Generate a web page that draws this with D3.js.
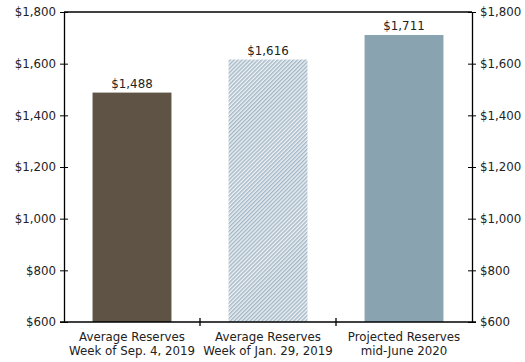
<!DOCTYPE html>
<html>
<head>
<meta charset="utf-8">
<script src="https://cdn.jsdelivr.net/npm/d3@7"></script>
<style>
  body { margin: 0; background: #fff; }
  svg { display: block; font-family: "DejaVu Sans", Verdana, sans-serif; }
</style>
</head>
<body>
<svg id="chart" width="525" height="362"></svg>
<script>
// data
const categories = [
  ["Average Reserves", "Week of Sep. 4, 2019"],
  ["Average Reserves", "Week of Jan. 29, 2019"],
  ["Projected Reserves", "mid-June 2020"]
];
const values = [1488, 1616, 1711];
const yTicks = [600, 800, 1000, 1200, 1400, 1600, 1800];

const W = 525, H = 362;
const margin = { top: 12, right: 53, bottom: 40, left: 64 };
const svg = d3.select("#chart");
const fs = 11.8;

const defs = svg.append("defs");
const pat = defs.append("pattern")
  .attr("id", "hatch")
  .attr("patternUnits", "userSpaceOnUse")
  .attr("width", 2.8).attr("height", 2.8)
  .attr("patternTransform", "rotate(45)");
pat.append("rect").attr("width", 2.8).attr("height", 2.8).attr("fill", "#eef2f5");
pat.append("rect").attr("width", 1.4).attr("height", 2.8).attr("fill", "#a3b7c6");

const x = d3.scaleBand()
  .domain(d3.range(categories.length))
  .range([margin.left, W - margin.right])
  .paddingInner(0.42).paddingOuter(0.21);
const y = d3.scaleLinear().domain([600, 1800]).range([H - margin.bottom, margin.top]);

const fills = ["#5e5345", "url(#hatch)", "#8aa3b1"];
const fmt = d => "$" + d3.format(",")(d);

svg.append("g").selectAll("rect")
  .data(values)
  .join("rect")
  .attr("x", (d, i) => x(i))
  .attr("y", d => y(d))
  .attr("width", x.bandwidth())
  .attr("height", d => y(600) - y(d))
  .attr("fill", (d, i) => fills[i]);

svg.append("g").selectAll("text")
  .data(values)
  .join("text")
  .attr("x", (d, i) => x(i) + x.bandwidth() / 2)
  .attr("y", d => y(d) - 5)
  .attr("text-anchor", "middle")
  .attr("font-size", fs)
  .attr("fill", "#222")
  .text(fmt);

// axes
const yl = d3.axisLeft(y).tickValues(yTicks).tickFormat(fmt).tickSizeInner(4).tickSizeOuter(0).tickPadding(4);
const yr = d3.axisRight(y).tickValues(yTicks).tickFormat(fmt).tickSizeInner(4).tickSizeOuter(0).tickPadding(4);

function styleAxis(g) {
  g.select(".domain").attr("stroke", "#000").attr("stroke-width", 1.3);
  g.selectAll(".tick line").attr("stroke", "#000").attr("x1", -4).attr("x2", 4);
  g.selectAll(".tick text").attr("font-size", fs).attr("fill", "#222").attr("font-family", "DejaVu Sans, Verdana, sans-serif");
}

svg.append("g").attr("transform", `translate(${margin.left},0)`).call(yl).call(styleAxis);
svg.append("g").attr("transform", `translate(${W - margin.right},0)`).call(yr).call(styleAxis);

// top border
svg.append("line")
  .attr("x1", margin.left).attr("x2", W - margin.right)
  .attr("y1", y(1800)).attr("y2", y(1800))
  .attr("stroke", "#000").attr("stroke-width", 1.3);

// bottom axis with separators between categories
const x0 = margin.left, x1 = W - margin.right, yb = y(600);
const step = (x1 - x0) / categories.length;
svg.append("line")
  .attr("x1", x0 - 4).attr("x2", x1 + 4)
  .attr("y1", yb).attr("y2", yb)
  .attr("stroke", "#000").attr("stroke-width", 1.3);
svg.append("g").selectAll("line")
  .data(d3.range(1, categories.length))
  .join("line")
  .attr("x1", i => x0 + i * step).attr("x2", i => x0 + i * step)
  .attr("y1", yb - 4).attr("y2", yb + 4)
  .attr("stroke", "#000").attr("stroke-width", 1.3);

const lab = svg.append("g").selectAll("text")
  .data(categories)
  .join("text")
  .attr("x", (d, i) => x(i) + x.bandwidth() / 2)
  .attr("y", yb + 19)
  .attr("text-anchor", "middle")
  .attr("font-size", fs)
  .attr("fill", "#222");
lab.selectAll("tspan")
  .data(d => d)
  .join("tspan")
  .attr("x", function () { return this.parentNode.getAttribute("x"); })
  .attr("dy", (d, i) => i === 0 ? 0 : 14)
  .text(d => d);
</script>
</body>
</html>
